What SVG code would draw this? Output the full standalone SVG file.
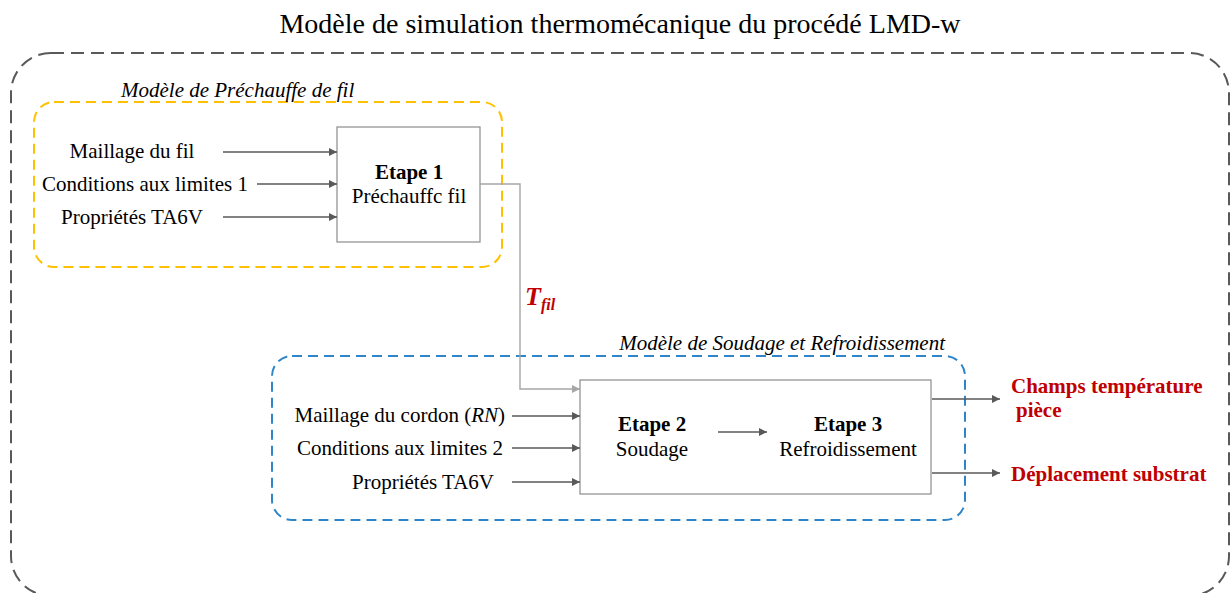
<svg xmlns="http://www.w3.org/2000/svg" width="1231" height="593" viewBox="0 0 1231 593">
<style>
.t{font-family:"Liberation Serif","Times New Roman",serif;font-size:21px;fill:#000}
.it{font-style:italic}
.b{font-weight:bold}
.r{fill:#C00000;font-weight:bold}
.box{fill:#fff;stroke:#8c8c8c;stroke-width:1.2}
.ar{stroke:#595959;stroke-width:1.4;fill:none;marker-end:url(#ah)}
</style>
<defs>
<marker id="ah" viewBox="0 0 10 10" refX="10" refY="5" markerWidth="8" markerHeight="8" markerUnits="userSpaceOnUse" orient="auto"><path d="M0,0 L10,5 L0,10 Z" fill="#595959"/></marker>
<marker id="ahl" viewBox="0 0 10 10" refX="10" refY="5" markerWidth="8" markerHeight="8" markerUnits="userSpaceOnUse" orient="auto"><path d="M0,0 L10,5 L0,10 Z" fill="#a6a6a6"/></marker>
</defs>
<rect width="1231" height="593" fill="#fff"/>
<text class="t" x="620" y="33" text-anchor="middle" style="font-size:28px">Modèle de simulation thermomécanique du procédé LMD-w</text>
<g id="outer">
<rect x="11" y="53" width="1218" height="543" rx="40" fill="none" stroke="#595959" stroke-width="2" stroke-dasharray="13,7"/>
</g>
<g id="prechauffe">
<rect x="34" y="102" width="468" height="165" rx="20" fill="none" stroke="#FFC000" stroke-width="2" stroke-dasharray="10,6"/>
<text class="t it" x="121" y="97">Modèle de Préchauffe de fil</text>
</g>
<g id="soudage">
<rect x="272" y="356" width="693" height="164" rx="20" fill="none" stroke="#2E86C8" stroke-width="2" stroke-dasharray="10,6"/>
<text class="t it" x="945" y="350" text-anchor="end">Modèle de Soudage et Refroidissement</text>
</g>
<g id="in1">
<text class="t" x="132" y="158" text-anchor="middle">Maillage du fil</text>
<text class="t" x="145" y="191" text-anchor="middle">Conditions aux limites 1</text>
<text class="t" x="132" y="224" text-anchor="middle">Propriétés TA6V</text>
</g>
<g id="etape1">
<rect class="box" x="337" y="127" width="143" height="115"/>
<text class="t b" x="409" y="179" text-anchor="middle">Etape 1</text>
<text class="t" x="409" y="203" text-anchor="middle">Préchauffc fil</text>
</g>
<g id="in2">
<text class="t" x="505" y="422" text-anchor="end">Maillage du cordon (<tspan font-style="italic">RN</tspan>)</text>
<text class="t" x="503" y="455" text-anchor="end">Conditions aux limites 2</text>
<text class="t" x="494" y="489" text-anchor="end">Propriétés TA6V</text>
</g>
<g id="etape23">
<rect class="box" x="580" y="380" width="351" height="114"/>
<text class="t b" x="652" y="431" text-anchor="middle">Etape 2</text>
<text class="t" x="652" y="456" text-anchor="middle">Soudage</text>
<text class="t b" x="848" y="431" text-anchor="middle">Etape 3</text>
<text class="t" x="848" y="456" text-anchor="middle">Refroidissement</text>
</g>
<g id="tfil">
<text class="t r" x="525" y="305" style="font-size:26px;font-style:italic">T<tspan style="font-size:16px" dy="5">fil</tspan></text>
</g>
<g id="outputs">
<text class="t r" x="1011" y="393">Champs température</text>
<text class="t r" x="1016" y="417">pièce</text>
<text class="t r" x="1011" y="481">Déplacement substrat</text>
</g>
<g id="connectors">
<path class="ar" d="M223,152 H337"/>
<path class="ar" d="M257,184 H337"/>
<path class="ar" d="M223,217 H337"/>
<path d="M480,184 H520 V389 H580" fill="none" stroke="#a6a6a6" stroke-width="1.4" marker-end="url(#ahl)"/>
<path class="ar" d="M512,416 H580"/>
<path class="ar" d="M512,448 H580"/>
<path class="ar" d="M512,482 H580"/>
<path class="ar" d="M718,432 H767"/>
<path class="ar" d="M932,399 H1000"/>
<path class="ar" d="M932,473 H1000"/>
</g>
</svg>
